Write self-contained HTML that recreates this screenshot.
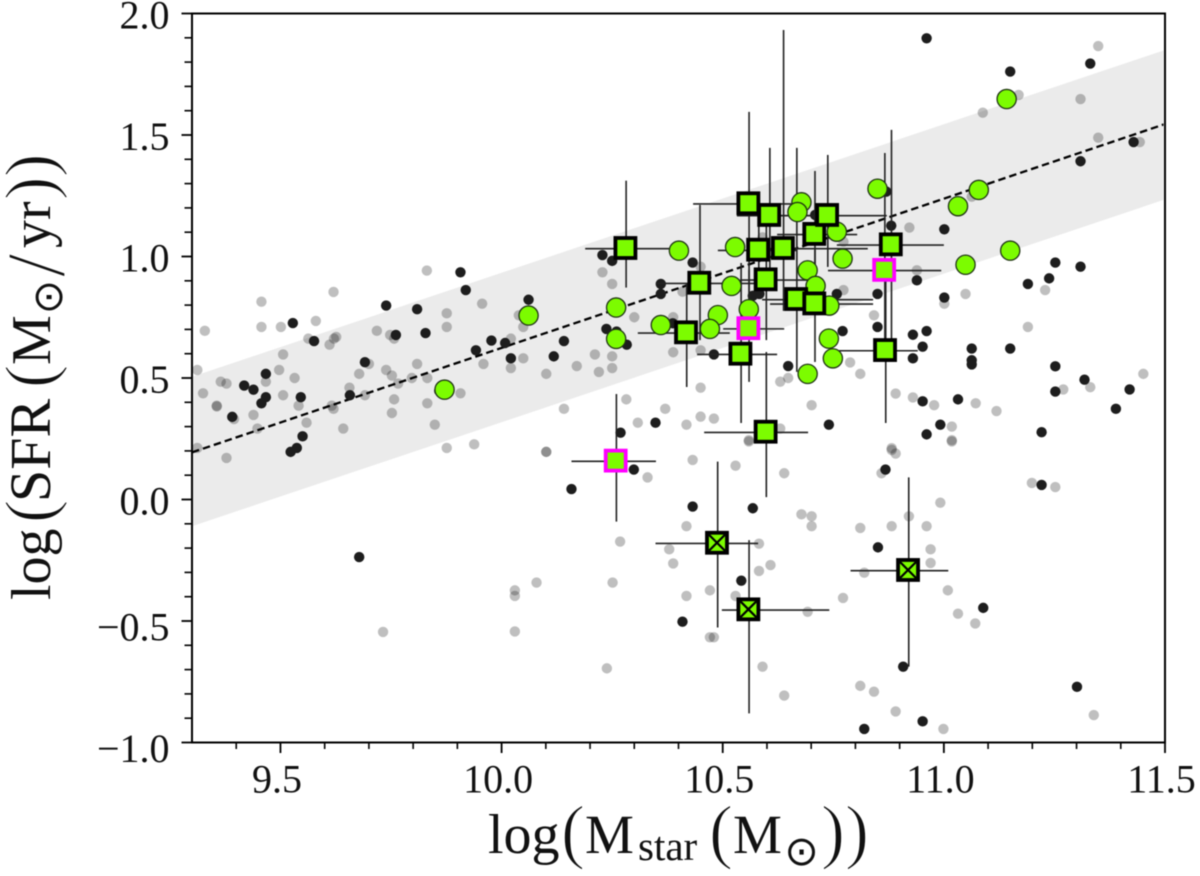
<!DOCTYPE html>
<html lang="en">
<head>
<meta charset="utf-8">
<title>log SFR versus log stellar mass</title>
<style>
html,body{margin:0;padding:0;background:#fff;}
body{width:1200px;height:876px;overflow:hidden;}
svg{display:block;filter:blur(0.5px);}
text{font-family:"Liberation Serif",serif;fill:#111;}
.sym{font-family:"DejaVu Sans",sans-serif;}
.paren{stroke:#fff;stroke-width:1.3px;}
</style>
</head>
<body>
<svg id="chart" xmlns="http://www.w3.org/2000/svg" width="1200" height="876" viewBox="0 0 1200 876">
  <defs>
    <clipPath id="plot-clip"><rect x="192" y="13.5" width="971.5" height="729"/></clipPath>
  </defs>
  <g id="marks" clip-path="url(#plot-clip)"></g>
  <g id="axes"></g>

  <g>
    <text x="488" y="853" font-size="56">log</text>
    <text class="paren" x="561" y="855" font-size="72">(</text>
    <text x="585" y="853" font-size="55">M</text>
    <text x="638" y="860" font-size="41">star</text>
    <text class="paren" x="709" y="855" font-size="72">(</text>
    <text x="733" y="853" font-size="55">M</text>
    <text class="sym" x="801.7" y="865" font-size="41" text-anchor="middle">⊙</text>
    <text class="paren" x="821" y="855" font-size="72">)</text>
    <text class="paren" x="845" y="855" font-size="72">)</text>
  </g>

  <g transform="rotate(-90)">
    <text x="-600" y="50" font-size="56">log</text>
    <text class="paren" x="-523" y="53" font-size="70">(</text>
    <text x="-502" y="50" font-size="58">SFR</text>
    <text class="paren" x="-388" y="53" font-size="70">(</text>
    <text x="-365" y="50" font-size="56">M</text>
    <text class="sym" x="-297" y="62" font-size="41" text-anchor="middle">⊙</text>
    <text class="paren" x="-277" y="64" font-size="84">/</text>
    <text x="-248" y="50" font-size="56">yr</text>
    <text class="paren" x="-200" y="53" font-size="70">)</text>
    <text class="paren" x="-177" y="53" font-size="70">)</text>
  </g>
</svg>

<script>
// ---------- chart data ----------
const xTickValues = [9.5, 10.0, 10.5, 11.0, 11.5];
const xTickLabels = ["9.5", "10.0", "10.5", "11.0", "11.5"];
const yTickValues = [2.0, 1.5, 1.0, 0.5, 0.0, -0.5, -1.0];
const yTickLabels = ["2.0", "1.5", "1.0", "0.5", "0.0", "−0.5", "−1.0"];

const fitX = [9.3, 11.5];
const fitY = [0.194, 1.545];
const bandUpper = [0.505, 1.85];
const bandLower = [-0.11, 1.235];

const greyX = [
9.831,9.620,9.457,9.329,9.457,9.501,9.580,9.956,9.876,9.876,9.718,9.748,9.757,9.626,9.621,9.563,9.611,9.506,9.312,9.497,
9.532,9.365,9.378,9.467,9.325,9.506,9.356,9.356,9.541,9.439,9.395,9.559,9.448,9.312,9.378,9.642,9.620,9.616,9.656,9.691,
9.700,9.678,9.739,9.752,9.766,9.757,9.752,9.797,9.809,9.832,9.832,9.849,9.876,9.938,9.907,9.959,10.021,10.021,10.049,10.049,
10.039,10.101,10.101,10.141,10.170,
10.590,10.922,11.063,10.773,10.450,10.228,10.250,10.409,10.939,10.773,10.300,10.388,10.842,11.049,11.001,10.211,10.250,10.388,10.450,10.220,
10.250,10.648,10.630,10.788,10.811,10.450,10.891,10.930,10.978,11.072,11.018,11.018,10.701,10.282,10.370,10.308,10.418,10.450,10.480,10.559,
10.630,10.882,
10.101,10.432,10.529,10.330,10.639,10.559,10.882,10.891,10.859,11.018,10.992,10.678,10.701,10.701,10.921,10.811,10.882,10.961,10.418,10.970,
10.970,11.009,10.820,10.268,10.379,10.388,10.582,10.608,10.582,10.079,10.251,10.030,10.030,10.418,10.471,10.529,10.772,10.692,11.032,11.071,
10.030,10.471,10.480,10.238,10.590,10.639,10.811,10.842,10.891,10.999,
11.349,11.169,11.088,11.309,11.349,11.443,11.229,
11.190,11.451,11.270,11.331,11.119,11.199,11.252,
11.339,9.732
];
const greyY = [
0.942,0.854,0.814,0.694,0.710,0.710,0.735,0.806,0.766,0.710,0.694,0.677,0.662,0.669,0.662,0.662,0.637,0.597,0.533,0.533,
0.500,0.485,0.477,0.485,0.437,0.429,0.386,0.383,0.386,0.348,0.331,0.316,0.292,0.212,0.171,0.292,0.373,0.386,0.460,0.429,
0.558,0.517,0.533,0.510,0.477,0.412,0.356,0.500,0.558,0.500,0.396,0.308,0.212,0.227,0.437,0.558,0.541,0.662,0.581,0.710,
0.758,0.517,0.196,0.373,0.549,
1.079,1.119,1.246,1.061,0.958,0.935,0.887,0.855,0.943,0.862,0.750,0.750,0.758,0.846,0.806,0.597,0.589,0.606,0.614,0.525,
0.541,0.500,0.485,0.564,0.517,0.460,0.436,0.420,0.388,0.396,0.300,0.244,0.388,0.412,0.373,0.316,0.308,0.341,0.333,0.244,
0.292,0.211,
0.196,0.163,0.139,0.091,0.108,0.239,0.204,0.189,0.108,0.239,-0.013,-0.061,-0.069,-0.110,-0.069,-0.117,-0.110,-0.110,-0.110,-0.205,
-0.261,-0.374,-0.301,-0.173,-0.205,-0.263,-0.182,-0.270,-0.294,-0.342,-0.342,-0.374,-0.397,-0.397,-0.374,-0.397,-0.405,-0.462,-0.470,-0.510,
-0.543,-0.567,-0.567,-0.695,-0.688,-0.807,-0.767,-0.791,-0.872,-0.944,
1.866,1.665,1.592,1.648,1.489,1.471,0.862,
0.710,0.517,0.453,0.462,0.364,0.068,0.051,
-0.887,-0.545
];

const darkX = [
9.907,9.919,9.739,9.809,9.528,10.061,9.576,9.761,9.828,9.977,10.008,9.942,10.021,10.141,10.118,9.691,9.467,9.418,9.439,9.467,
9.457,9.546,9.657,9.391,9.550,9.537,9.523,10.158,9.859,
10.228,10.250,10.432,10.360,10.360,10.568,10.583,10.237,10.260,10.283,10.387,10.480,10.648,10.758,10.850,10.850,10.939,11.001,10.881,11.001,
10.771,10.930,10.961,10.952,10.930,11.063,11.063,11.063,10.952,11.032,10.992,10.961,10.348,10.269,10.740,10.709,10.870,
10.299,10.432,10.568,10.868,10.851,10.542,10.409,10.908,10.820,10.952,11.089,
10.961,11.150,11.331,11.429,11.309,11.252,11.309,11.238,11.190,
11.150,11.252,11.318,11.252,11.420,11.389,11.221,11.221,
11.301,9.678
];
const darkY = [
0.935,0.862,0.798,0.783,0.726,0.822,0.652,0.677,0.685,0.654,0.644,0.614,0.581,0.652,0.589,0.565,0.517,0.469,0.452,0.421,
0.396,0.421,0.429,0.340,0.260,0.212,0.196,0.043,0.447,
1.006,0.982,0.975,0.887,0.846,0.838,0.846,0.702,0.691,0.637,0.725,0.597,0.549,0.846,0.846,0.710,0.902,0.831,1.127,1.112,
0.693,0.678,0.693,0.629,0.581,0.621,0.573,0.556,0.404,0.412,0.308,0.268,0.316,0.275,0.308,1.171,1.267,
0.123,-0.029,-0.036,0.123,-0.197,-0.334,-0.503,-0.688,-0.944,-0.913,-0.446,
1.898,1.761,1.794,1.471,1.392,0.975,0.958,0.910,0.887,
0.621,0.548,0.493,0.444,0.453,0.373,0.277,0.060,
-0.771,-0.237
];

const circleX = [
10.850,11.032,11.079,10.678,10.669,10.758,10.771,11.049,10.401,10.528,10.692,10.710,10.520,10.259,10.741,10.559,10.489,10.360,10.471,10.259,
10.740,10.749,10.692,11.142,11.150,10.061,9.871
];
const circleY = [
1.279,1.207,1.274,1.223,1.183,1.102,0.991,0.966,1.024,1.039,0.943,0.879,0.879,0.790,0.798,0.783,0.759,0.718,0.702,0.661,
0.662,0.581,0.517,1.648,1.024,0.757,0.452
];

const squareClass = [
"black","black","black","black","black","black","magenta","black","black","black","black",
"black","black","black","black","black","magenta","black","magenta","crossed","crossed","crossed"
];
const squareX = [10.280,10.558,10.605,10.447,10.417,10.540,10.558,10.597,10.597,10.580,10.636,10.666,10.707,10.707,10.736,10.880,10.865,10.867,10.258,10.487,10.558,10.919];
const squareY = [1.035,1.219,1.171,0.892,0.688,0.600,0.705,0.906,0.279,1.028,1.035,0.825,0.807,1.093,1.171,1.050,0.945,0.615,0.160,-0.178,-0.452,-0.290];
const squareXErrLow = [0.091,0.125,0.073,0.098,0.109,0.098,0.057,0.058,0.139,0.091,0.052,0.077,0.100,0.084,0.118,0.122,0.127,0.118,0.100,0.139,0.060,0.130];
const squareXErrHigh = [0.101,0.123,0.104,0.130,0.099,0.083,0.081,0.094,0.096,0.088,0.192,0.174,0.133,0.097,0.135,0.120,0.129,0.074,0.091,0.093,0.183,0.091];
const squareYErrLow = [0.163,0.398,0.247,0.236,0.225,0.285,0.221,0.250,0.269,0.104,0.259,0.300,0.241,0.260,0.214,0.394,0.330,0.300,0.251,0.349,0.428,0.398];
const squareYErrHigh = [0.277,0.376,0.276,0.320,0.203,0.373,0.240,0.224,0.328,0.102,0.897,0.622,0.220,0.259,0.247,0.471,0.481,0.330,0.274,0.334,0.285,0.381];

// ---------- axis functions ----------
const NS = "http://www.w3.org/2000/svg";
const plotLeft = 192, plotRight = 1165, plotTop = 13.5, plotBottom = 742.5;
const xMin = 9.3, xMax = 11.5, yMin = -1.0, yMax = 2.0;
function sx(v) { return plotLeft + (v - xMin) / (xMax - xMin) * (plotRight - plotLeft); }
function sy(v) { return plotBottom - (v - yMin) / (yMax - yMin) * (plotBottom - plotTop); }
function make(parent, tag, attrs) {
  const el = document.createElementNS(NS, tag);
  for (const k in attrs) el.setAttribute(k, attrs[k]);
  parent.appendChild(el);
  return el;
}

const marks = document.getElementById("marks");
const axes = document.getElementById("axes");

// ---------- band and fit line ----------
const band = make(marks, "polygon", {
  points: sx(fitX[0]) + "," + sy(bandUpper[0]) + " " + sx(fitX[1]) + "," + sy(bandUpper[1]) + " " +
          sx(fitX[1]) + "," + sy(bandLower[1]) + " " + sx(fitX[0]) + "," + sy(bandLower[0]),
  fill: "#ebebeb"
});



const fit = make(marks, "line", {
  x1: sx(fitX[0]), y1: sy(fitY[0]), x2: sx(fitX[1]), y2: sy(fitY[1]),
  stroke: "#000", "stroke-width": 2.3, "stroke-dasharray": "7.5 4"
});



// ---------- scatter series ----------
greyX.forEach(function (x, i) {
  const c = make(marks, "circle", { cx: sx(x), cy: sy(greyY[i]), r: 5.2, fill: "#000", "fill-opacity": 0.25 });
  
  
});
darkX.forEach(function (x, i) {
  const c = make(marks, "circle", { cx: sx(x), cy: sy(darkY[i]), r: 5.2, fill: "#1d1d1d" });
  
  
});

// ---------- error bars ----------
squareX.forEach(function (x, i) {
  const y = squareY[i];
  const h = make(marks, "line", {
    x1: sx(x - squareXErrLow[i]), x2: sx(x + squareXErrHigh[i]), y1: sy(y) + 0.7, y2: sy(y) + 0.7,
    stroke: "#222", "stroke-width": 1.6
  });
  
  
  const v = make(marks, "line", {
    x1: sx(x) + 0.7, x2: sx(x) + 0.7, y1: sy(y - squareYErrLow[i]), y2: sy(y + squareYErrHigh[i]),
    stroke: "#222", "stroke-width": 1.6
  });
  
  
});

// ---------- green circles ----------
circleX.forEach(function (x, i) {
  const c = make(marks, "circle", { cx: sx(x), cy: sy(circleY[i]), r: 9.6, fill: "#7cfc00", stroke: "#1f3314", "stroke-width": 1.3 });
  
  
});

// ---------- squares ----------
squareX.forEach(function (x, i) {
  const px = sx(x), py = sy(squareY[i]);
  const kind = squareClass[i];
  const r = make(marks, "rect", {
    x: px - 10, y: py - 10, width: 20, height: 20, fill: "#7cfc00",
    stroke: kind === "magenta" ? "#ff00ff" : "#000", "stroke-width": 3.8
  });
  
  
  if (kind === "crossed") {
    const a = make(marks, "line", { x1: px - 8, y1: py - 8, x2: px + 8, y2: py + 8, stroke: "#000", "stroke-width": 2.2 });
    
    
    const b = make(marks, "line", { x1: px - 8, y1: py + 8, x2: px + 8, y2: py - 8, stroke: "#000", "stroke-width": 2.2 });
    
    
  }
});

// ---------- frame ----------
const frame = make(axes, "rect", {
  x: plotLeft, y: plotTop, width: plotRight - plotLeft, height: plotBottom - plotTop,
  fill: "none", stroke: "#000", "stroke-width": 2
});



// ---------- minor ticks ----------
for (let k = 1; k < 22; k++) {
  if (xTickValues.some(function (v) { return Math.abs(v - (xMin + k * 0.1)) < 1e-6; })) continue;
  const t = make(axes, "line", { x1: sx(xMin + k * 0.1), x2: sx(xMin + k * 0.1), y1: plotBottom, y2: plotBottom + 6.5, stroke: "#000", "stroke-width": 1.6 });
  
  
}
for (let k = 1; k < 30; k++) {
  if (k % 5 === 0) continue;
  const t = make(axes, "line", { x1: plotLeft - 7.5, x2: plotLeft, y1: sy(yMin + k * 0.1), y2: sy(yMin + k * 0.1), stroke: "#000", "stroke-width": 1.6 });
  
  
}

// ---------- major ticks and labels ----------
xTickValues.forEach(function (v, i) {
  const t = make(axes, "line", { x1: sx(v), x2: sx(v), y1: plotBottom, y2: plotBottom + 10.5, stroke: "#000", "stroke-width": 1.8 });
  
  
  const l = make(axes, "text", { x: sx(v) - 3.5, y: 792.5, "font-size": 40, "text-anchor": "middle" });
  l.textContent = xTickLabels[i];
  
  
});
yTickValues.forEach(function (v, i) {
  const t = make(axes, "line", { x1: plotLeft - 10.5, x2: plotLeft, y1: sy(v), y2: sy(v), stroke: "#000", "stroke-width": 1.8 });
  
  
  const l = make(axes, "text", { x: 169.5, y: sy(v) + (v < 0 ? 19.5 : 15), "font-size": 40, "text-anchor": "end" });
  l.textContent = yTickLabels[i];
  
  
});
</script>
</body>
</html>
